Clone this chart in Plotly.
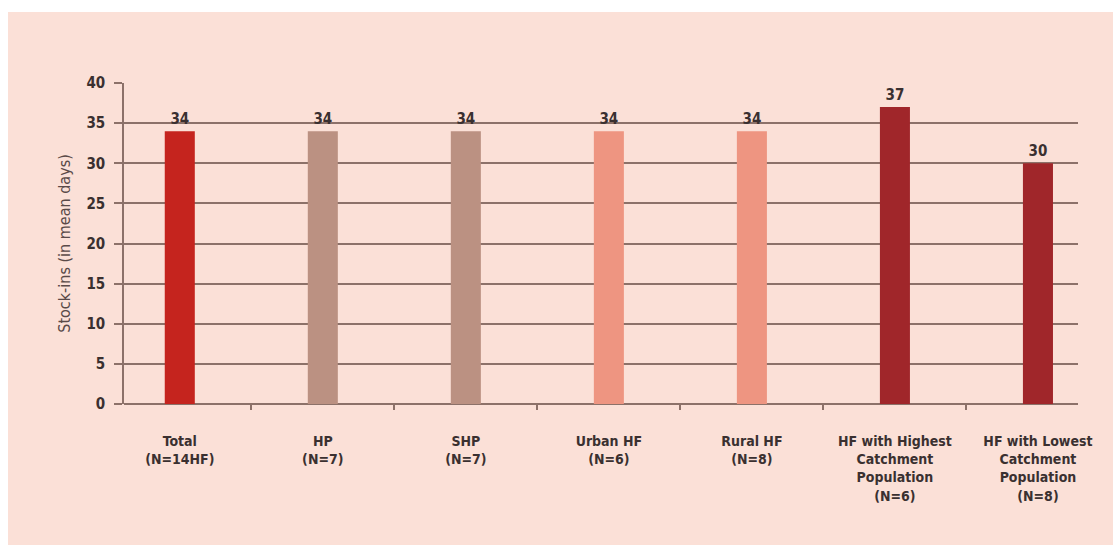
import plotly.graph_objects as go

categories = ["Total<br>(N=14HF)", "HP<br>(N=7)", "SHP<br>(N=7)", "Urban HF<br>(N=6)",
              "Rural HF<br>(N=8)", "HF with Highest<br>Catchment<br>Population<br>(N=6)",
              "HF with Lowest<br>Catchment<br>Population<br>(N=8)"]
values = [34, 34, 34, 34, 34, 37, 30]
colors = ["#C5241E", "#BB9182", "#BB9182", "#EE9581", "#EE9581", "#A0262A", "#A0262A"]
y_ticks = [0, 5, 10, 15, 20, 25, 30, 35, 40]

FONT = "DejaVu Sans Condensed, Liberation Sans Narrow, sans-serif"
PINK = "#FBE0D7"
GRID = "#8C7169"

fig = go.Figure()
fig.add_trace(go.Bar(
    x=categories, y=values,
    marker=dict(color=colors, line=dict(width=0)),
    width=0.21,
    text=[str(v) for v in values], textposition="outside",
    textfont=dict(family=FONT, size=15, color="#3a3030", weight="bold"),
    cliponaxis=False,
))

fig.update_layout(
    width=1113, height=545,
    margin=dict(l=124, r=35, t=83, b=141),
    paper_bgcolor=PINK, plot_bgcolor=PINK,
    showlegend=False,
    font=dict(family=FONT, color="#3a3030"),
    shapes=[
        dict(type="rect", xref="paper", yref="paper", x0=-0.2, x1=1.1, y0=1.2212, y1=1.3,
             fillcolor="white", line=dict(width=0), layer="below"),
        dict(type="rect", xref="paper", yref="paper", x0=-0.2, x1=-0.1216, y0=-0.5, y1=1.3,
             fillcolor="white", line=dict(width=0), layer="below"),
    ],
)
fig.update_xaxes(
    type="category", categoryorder="array", categoryarray=categories,
    range=[-0.39, 6.28], tickson="boundaries",
    ticks="outside", ticklen=5, tickcolor=GRID, tickwidth=1.5,
    showline=False, showgrid=False, zeroline=False,
    tickfont=dict(family=FONT, size=14, color="#3a3030", weight="bold"),
    ticklabelstandoff=27,
)
fig.update_yaxes(
    range=[0, 40], tickmode="array", tickvals=y_ticks,
    showgrid=True, gridcolor=GRID, gridwidth=1.5,
    showline=True, linecolor=GRID, linewidth=1.5,
    zeroline=True, zerolinecolor=GRID, zerolinewidth=1.5,
    ticks="outside", ticklen=8, tickcolor=GRID, tickwidth=1.5,
    tickfont=dict(family=FONT, size=15, color="#3a3030", weight="bold"),
    ticklabelstandoff=6,
    title=dict(text="Stock-ins (in mean days)", font=dict(family=FONT, size=16, color="#5a4a48"),
               standoff=12),
)

fig.write_html("out.html")
